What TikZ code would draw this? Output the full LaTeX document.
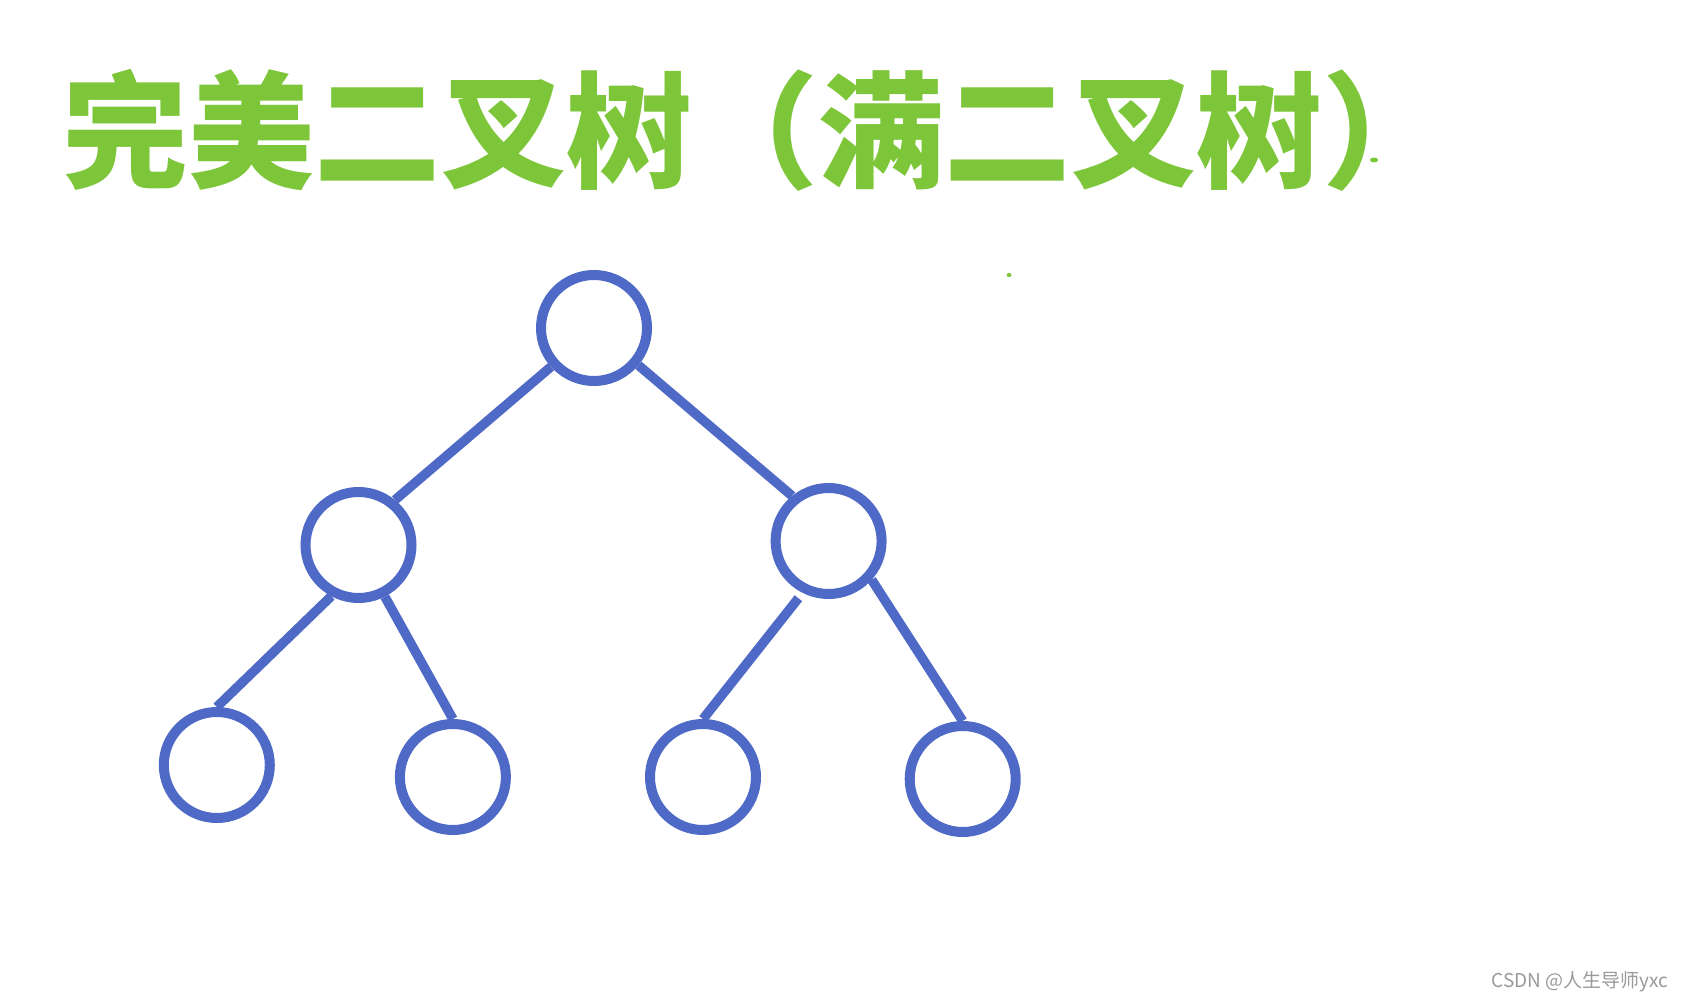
\documentclass[tikz,border=0pt]{standalone}
\usepackage{fontspec}
\newfontfamily\cjk{Noto Sans CJK SC}
\definecolor{titlegreen}{HTML}{7DC63A}
\definecolor{treeblue}{HTML}{4F69C6}
\definecolor{wmgray}{HTML}{9A9A9A}
\begin{document}
\begin{tikzpicture}[x=1pt,y=-1pt,
  treenode/.style={circle,draw=treeblue,line width=10pt,minimum size=106pt,inner sep=0pt,fill=white},
  treeedge/.style={draw=treeblue,line width=9.5pt},
  titletext/.style={text=titlegreen,font=\cjk\bfseries\fontsize{126}{126}\selectfont,inner sep=0pt},
  watermark/.style={text=wmgray,font=\cjk\fontsize{19}{19}\selectfont,inner sep=0pt,anchor=east}]
\useasboundingbox[fill=white] (0,0) rectangle (1683,1000);
\node[titletext] (title) at (755,130) {完美二叉树（满二叉树）};
\fill[titlegreen] (1374,160) ellipse (4pt and 2.5pt);
\fill[titlegreen] (1009,275) ellipse (2.5pt and 2pt);
\node[treenode] (root) at (594,328) {};
\node[treenode] (l) at (358.5,545) {};
\node[treenode] (r) at (828.6,541) {};
\node[treenode] (ll) at (216.8,765) {};
\node[treenode] (lr) at (452.9,777) {};
\node[treenode] (rl) at (703,777) {};
\node[treenode] (rr) at (962.7,779) {};
\path[treeedge] (root.222) -- (l.51);
\path[treeedge] (root.320) -- (r.129);
\path[treeedge] (l.242) -- (ll.north);
\path[treeedge] (l.297) -- (lr.north);
\path[treeedge] ([shift={(-3pt,-6pt)}]r.242) -- (rl.north);
\path[treeedge] (r.318) -- (rr.north);
\node[watermark] (wm) at (1668,982) {CSDN @人生导师yxc};
\end{tikzpicture}
\end{document}
